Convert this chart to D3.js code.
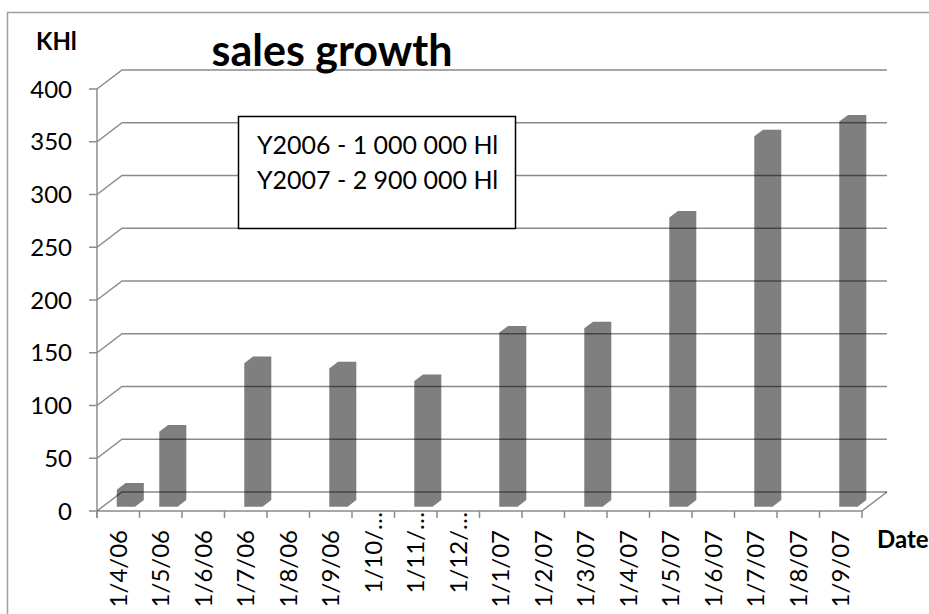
<!DOCTYPE html>
<html>
<head>
<meta charset="utf-8">
<script src="https://cdn.jsdelivr.net/npm/d3@7"></script>
<style>
  html, body { margin: 0; padding: 0; background: #fff; }
  svg { display: block; font-family: Lato, "Open Sans", sans-serif; }
</style>
</head>
<body>
<div id="vis"></div>
<script>
// Daten
var categories = ['1/4/06', '1/5/06', '1/6/06', '1/7/06', '1/8/06', '1/9/06', '1/10/…', '1/11/…', '1/12/…',
    '1/1/07', '1/2/07', '1/3/07', '1/4/07', '1/5/07', '1/6/07', '1/7/07', '1/8/07', '1/9/07'];
var sales = [16, 71, null, 136, null, 131, null, 119, null, 165, null, 169, null, 274, null, 351, null, 365];
var yTicks = [0, 50, 100, 150, 200, 250, 300, 350, 400];
var noteLines = ['Y2006 - 1 000 000 Hl', 'Y2007 - 2 900 000 Hl'];

var width = 929;
var height = 614;

// Tiefe der 3D Darstellung
var depth = {x: 25, y: -19};
var barFront = 0.23, barBack = 0.58;

var svg = d3.select('#vis').append('svg')
    .attr('width', width)
    .attr('height', height);

// Rahmen
svg.append('path')
    .attr('d', 'M7.5,' + height + 'V12.5H' + width)
    .attr('fill', 'none')
    .attr('stroke', '#a0a0a0')
    .attr('stroke-width', 1.5);

var x = d3.scaleBand().domain(categories).range([97, 862]);
var y = d3.scaleLinear().domain([0, 400]).range([511, 89]);

var gridColor = 'rgba(0,0,0,0.46)';

// Balken (3D Säulen)
var bw = x.bandwidth();
var bars = categories.map(function (c, i) {
    return {cat: c, value: sales[i]};
}).filter(function (d) { return d.value != null; });

svg.selectAll('.bar')
    .data(bars)
    .enter().append('path')
    .attr('class', 'bar')
    .attr('fill', '#7f7f7f')
    .attr('d', function (d) {
        var x0 = x(d.cat) + 0.33 * bw + barFront * depth.x;
        var x1 = x0 + 0.43 * bw;
        var yb = y(0) + barFront * depth.y;
        var yt = y(d.value) + barFront * depth.y;
        var dx = (barBack - barFront) * depth.x;
        var dy = (barBack - barFront) * depth.y;
        return 'M' + x0 + ',' + yb + 'V' + yt + 'L' + (x0 + dx) + ',' + (yt + dy) +
            'H' + (x1 + dx) + 'V' + (yb + dy) + 'L' + x1 + ',' + yb + 'Z';
    });

// Gitterlinien an der Rückwand und Seitenwand
var grid = svg.append('g');
grid.selectAll('.gl')
    .data(yTicks)
    .enter().append('path')
    .attr('fill', 'none')
    .attr('stroke', gridColor)
    .attr('stroke-width', 1.5)
    .attr('d', function (v) {
        return 'M97,' + y(v) + 'L' + (97 + depth.x) + ',' + (y(v) + depth.y) + 'H' + (862 + depth.x);
    });

// Boden
svg.append('path')
    .attr('fill', 'none')
    .attr('stroke', gridColor)
    .attr('stroke-width', 1.5)
    .attr('d', 'M97,' + y(0) + 'H862L' + (862 + depth.x) + ',' + (y(0) + depth.y));

// Y-Achse
var yAxis = svg.append('g');
yAxis.append('line')
    .attr('x1', 97).attr('x2', 97)
    .attr('y1', y(400)).attr('y2', y(0) + 7)
    .attr('stroke', '#8c8c8c').attr('stroke-width', 1.5);
yAxis.selectAll('.tick')
    .data(yTicks)
    .enter().append('line')
    .attr('x1', 89).attr('x2', 97)
    .attr('y1', function (v) { return y(v); })
    .attr('y2', function (v) { return y(v); })
    .attr('stroke', '#8c8c8c').attr('stroke-width', 1.5);
yAxis.selectAll('.lbl')
    .data(yTicks)
    .enter().append('text')
    .attr('x', 72)
    .attr('y', function (v) { return y(v); })
    .attr('dy', '0.36em')
    .attr('text-anchor', 'end')
    .attr('font-size', 24)
    .text(function (v) { return v; });

// X-Achse
var xAxis = svg.append('g');
xAxis.selectAll('.tick')
    .data(categories.concat(['_end']))
    .enter().append('line')
    .attr('x1', function (c, i) { return 97 + i * x.step(); })
    .attr('x2', function (c, i) { return 97 + i * x.step(); })
    .attr('y1', y(0)).attr('y2', y(0) + 7)
    .attr('stroke', '#8c8c8c').attr('stroke-width', 1.5);

var xl = xAxis.selectAll('.lbl')
    .data(categories)
    .enter().append('g')
    .attr('transform', function (c) {
        return 'translate(' + (x(c) + bw / 2 + 8.5) + ',530) rotate(-90)';
    });
xl.append('text')
    .attr('text-anchor', 'end')
    .attr('font-size', 24)
    .text(function (c) { return c.replace('…', ''); });
xl.filter(function (c) { return c.indexOf('…') >= 0; })
    .append('text')
    .attr('text-anchor', 'start')
    .attr('font-size', 24)
    .text('…');

// Titel und Achsentitel
svg.append('text')
    .attr('x', 332).attr('y', 66)
    .attr('text-anchor', 'middle')
    .attr('font-size', 43)
    .attr('font-weight', 'bold')
    .text('sales growth');
svg.append('text')
    .attr('x', 36).attr('y', 50)
    .attr('font-size', 24)
    .attr('font-weight', 'bold')
    .text('KHl');
svg.append('text')
    .attr('x', 877).attr('y', 548)
    .attr('font-size', 24)
    .attr('font-weight', 'bold')
    .text('Date');

// Notizbox
svg.append('rect')
    .attr('x', 238.5).attr('y', 116.5)
    .attr('width', 277).attr('height', 112)
    .attr('fill', '#fff')
    .attr('stroke', '#000')
    .attr('stroke-width', 1.5);
svg.selectAll('.note')
    .data(noteLines)
    .enter().append('text')
    .attr('x', 257)
    .attr('y', function (d, i) { return 154 + i * 35; })
    .attr('font-size', 25)
    .text(function (d) { return d; });
</script>
</body>
</html>
